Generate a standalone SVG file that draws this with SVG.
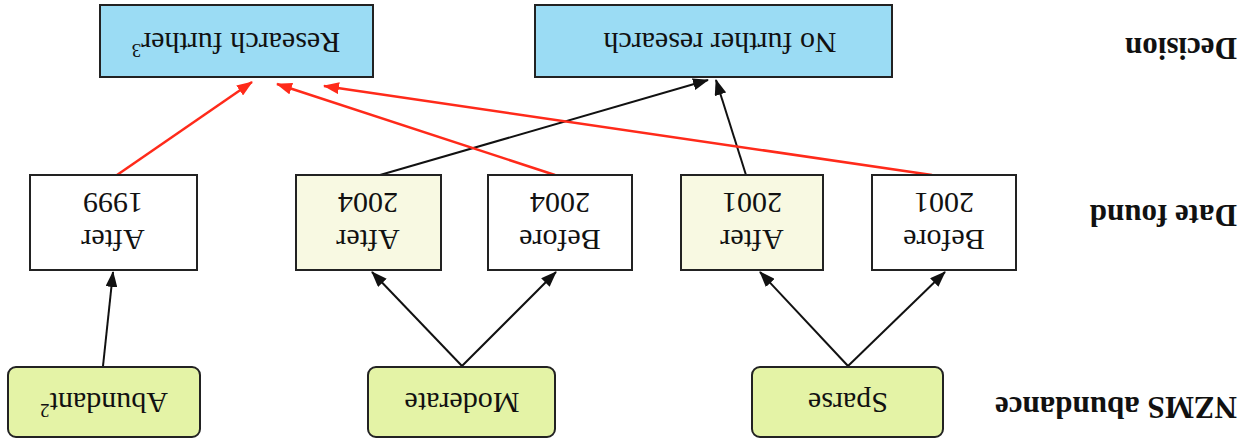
<svg xmlns="http://www.w3.org/2000/svg" width="1246" height="445" viewBox="0 0 1246 445">
<style>
.box{stroke:#222;stroke-width:2}
.dec{fill:#9bdcf4}
.abd{fill:#e4f3a6}
.pale{fill:#f8f9e2}
.wht{fill:#ffffff}
.t{font-family:"Liberation Serif","Times New Roman",serif;font-size:30px;fill:#111;text-anchor:middle}
.lab{font-family:"Liberation Serif","Times New Roman",serif;font-size:31px;font-weight:bold;fill:#111;text-anchor:start}
.k{stroke:#111;stroke-width:2;fill:none}
.r{stroke:#ff2a1a;stroke-width:2.5;fill:none}
</style>
<defs>
<marker id="ak" markerUnits="userSpaceOnUse" markerWidth="16" markerHeight="12" viewBox="0 0 16 12" refX="15" refY="6" orient="auto"><path d="M0,0 L16,6 L0,12 z" fill="#111"/></marker>
<marker id="ar" markerUnits="userSpaceOnUse" markerWidth="16" markerHeight="12" viewBox="0 0 16 12" refX="15" refY="6" orient="auto"><path d="M0,0 L16,6 L0,12 z" fill="#ff2a1a"/></marker>
</defs>
<rect width="1246" height="445" fill="#ffffff"/>

<g id="connectors">
<line class="k" x1="103" y1="366" x2="113" y2="272" marker-end="url(#ak)"/>
<line class="k" x1="462" y1="366" x2="372" y2="272" marker-end="url(#ak)"/>
<line class="k" x1="462" y1="366" x2="556" y2="272" marker-end="url(#ak)"/>
<line class="k" x1="848" y1="366" x2="760" y2="272" marker-end="url(#ak)"/>
<line class="k" x1="848" y1="366" x2="945" y2="272" marker-end="url(#ak)"/>
<line class="k" x1="746" y1="175" x2="716" y2="80" marker-end="url(#ak)"/>
<line class="k" x1="380" y1="175" x2="708" y2="80" marker-end="url(#ak)"/>
<line class="r" x1="117" y1="175" x2="252" y2="82" marker-end="url(#ar)"/>
<line class="r" x1="555" y1="175" x2="277" y2="84" marker-end="url(#ar)"/>
<line class="r" x1="932" y1="175" x2="324" y2="86" marker-end="url(#ar)"/>
</g>

<g id="label-decision"><text class="lab" x="1237" y="38" transform="rotate(180 1237 38)">Decision</text></g>
<g id="label-date"><text class="lab" x="1237" y="205" transform="rotate(180 1237 205)">Date found</text></g>
<g id="label-abundance"><text class="lab" x="1237" y="397" transform="rotate(180 1237 397)">NZMS abundance</text></g>

<g id="research-further">
<rect class="box dec" x="100" y="5" width="273" height="72"/>
<text class="t" x="236" y="33" transform="rotate(180 236 33)">Research further<tspan font-size="19" dy="-11">3</tspan></text>
</g>
<g id="no-further-research">
<rect class="box dec" x="535" y="5" width="357" height="72"/>
<text class="t" x="720" y="33" transform="rotate(180 720 33)">No further research</text>
</g>

<g id="after-1999">
<rect class="box wht" x="30" y="175" width="167" height="95"/>
<text class="t" x="113" y="230" transform="rotate(180 113 230)">After</text>
<text class="t" x="113" y="193" transform="rotate(180 113 193)">1999</text>
</g>
<g id="after-2004">
<rect class="box pale" x="296" y="175" width="145" height="95"/>
<text class="t" x="368" y="230" transform="rotate(180 368 230)">After</text>
<text class="t" x="368" y="193" transform="rotate(180 368 193)">2004</text>
</g>
<g id="before-2004">
<rect class="box wht" x="488" y="175" width="144" height="95"/>
<text class="t" x="560" y="230" transform="rotate(180 560 230)">Before</text>
<text class="t" x="560" y="193" transform="rotate(180 560 193)">2004</text>
</g>
<g id="after-2001">
<rect class="box pale" x="681" y="175" width="142" height="95"/>
<text class="t" x="752" y="230" transform="rotate(180 752 230)">After</text>
<text class="t" x="752" y="193" transform="rotate(180 752 193)">2001</text>
</g>
<g id="before-2001">
<rect class="box wht" x="872" y="175" width="144" height="95"/>
<text class="t" x="944" y="230" transform="rotate(180 944 230)">Before</text>
<text class="t" x="944" y="193" transform="rotate(180 944 193)">2001</text>
</g>

<g id="abundant">
<rect class="box abd" x="8" y="367" width="192" height="70" rx="8"/>
<text class="t" x="104" y="393" transform="rotate(180 104 393)">Abundant<tspan font-size="19" dy="-11">2</tspan></text>
</g>
<g id="moderate">
<rect class="box abd" x="368" y="367" width="187" height="70" rx="8"/>
<text class="t" x="462" y="393" transform="rotate(180 462 393)">Moderate</text>
</g>
<g id="sparse">
<rect class="box abd" x="752" y="367" width="191" height="70" rx="8"/>
<text class="t" x="848" y="393" transform="rotate(180 848 393)">Sparse</text>
</g>
</svg>
